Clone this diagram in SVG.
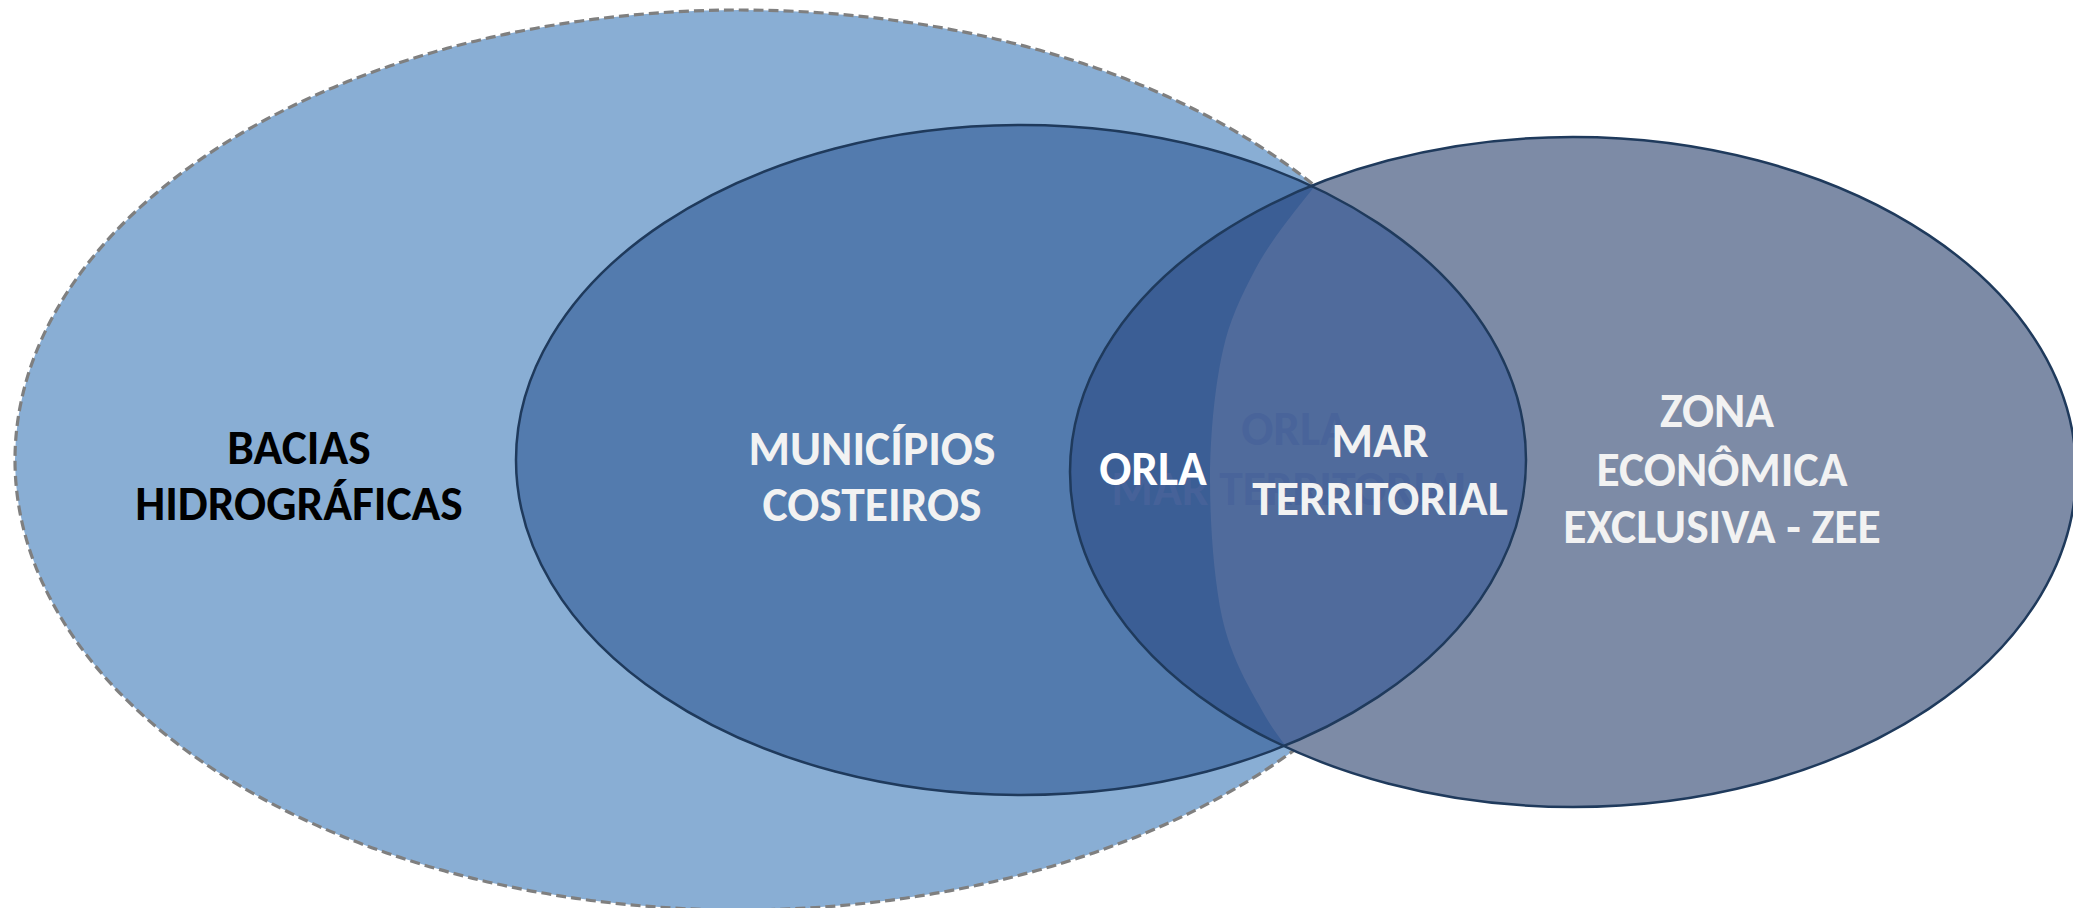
<svg xmlns="http://www.w3.org/2000/svg" width="2073" height="908" viewBox="0 0 2073 908">
  <style>
    .lbl { font-family: Carlito, Lato, "Open Sans", sans-serif; font-weight: 700; font-size: 47.5px; text-anchor: middle; }
    .light { fill: #F2F2F2; }
    .edge { fill: none; stroke: #1F3A5C; stroke-width: 2.5; }
  </style>
  <defs>
    <clipPath id="clipM"><ellipse cx="1021" cy="460" rx="505" ry="335"/></clipPath>
    <clipPath id="clipZ"><ellipse cx="1573" cy="472" rx="503" ry="335"/></clipPath>
  </defs>
  <rect width="2073" height="908" fill="#FFFFFF"/>

  <g id="node-bacias">
    <ellipse cx="740" cy="460" rx="725" ry="450" fill="#89AED4" stroke="#7F7F7F" stroke-width="3.2" stroke-dasharray="10 5"/>
    <text class="lbl" x="299" y="464" fill="#000000">BACIAS</text>
    <text class="lbl" x="299" y="520" fill="#000000">HIDROGRÁFICAS</text>
  </g>

  <g id="node-municipios">
    <ellipse cx="1021" cy="460" rx="505" ry="335" fill="#537BAE"/>
  </g>

  <g id="node-zee">
    <ellipse cx="1573" cy="472" rx="503" ry="335" fill="#7D8BA6"/>
  </g>

  <g id="node-orla">
    <g clip-path="url(#clipM)">
      <g clip-path="url(#clipZ)">
        <rect x="1050" y="120" width="500" height="700" fill="#3B5E95"/>
      </g>
    </g>
  </g>

  <g id="node-mar-territorial">
    <g clip-path="url(#clipM)">
      <g clip-path="url(#clipZ)">
        <path fill="#506B9C" d="M1314,187 C1300,205 1272,238 1256,268 C1240,298 1229,322 1223,350 C1215,385 1210,435 1210,480 C1210,525 1214,580 1222,617 C1230,654 1247,684 1259,705 C1270,726 1280,738 1285,745 L1800,745 L1800,187 Z"/>
      </g>
    </g>
  </g>

  <g id="ghost-text" fill="#48639A" fill-opacity="0.9">
    <text class="lbl" x="1295" y="445">ORLA</text>
    <text class="lbl" x="1293" y="505">MAR TERRITORIAL</text>
  </g>

  <g id="outlines">
    <ellipse class="edge" cx="1021" cy="460" rx="505" ry="335"/>
    <ellipse class="edge" cx="1573" cy="472" rx="503" ry="335"/>
  </g>

  <g id="labels">
    <text class="lbl light" x="872" y="465">MUNICÍPIOS</text>
    <text class="lbl light" x="872" y="521">COSTEIROS</text>
    <text class="lbl" x="1153" y="485" fill="#FFFFFF">ORLA</text>
    <text class="lbl light" x="1380" y="457">MAR</text>
    <text class="lbl light" x="1380" y="515">TERRITORIAL</text>
    <text class="lbl light" x="1717" y="427">ZONA</text>
    <text class="lbl light" x="1722" y="486">ECONÔMICA</text>
    <text class="lbl light" x="1722" y="543">EXCLUSIVA - ZEE</text>
  </g>

  <g id="connectors"/>
</svg>
